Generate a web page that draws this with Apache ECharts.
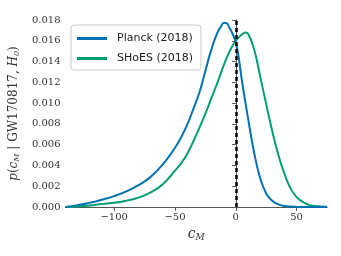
<!DOCTYPE html>
<html><head><meta charset="utf-8">
<script src="https://cdn.jsdelivr.net/npm/echarts@6/dist/echarts.min.js"></script>
<style>html,body{margin:0;padding:0;background:#fff}#c{width:341px;height:256px}</style>
</head><body><div id="c"></div>
<script>
var cmPlanck = [-140,-130,-120,-110,-100,-90,-80,-70,-60,-50,-45,-40,-35,-30,-25,-20,-15,-12,-10,-8,-5,-2,0,2,5,10,15,20,25,30,35,40,45,50,55,60,65,70,75];
var pPlanck  = [0,0.00018,0.0004,0.0007,0.00105,0.0015,0.0021,0.0029,0.0041,0.0057,0.0067,0.0079,0.0094,0.0110,0.0131,0.0152,0.0168,0.0174,0.0177,0.0177,0.0172,0.0165,0.0158,0.0147,0.0122,0.0086,0.0053,0.0028,0.0013,0.0006,0.00025,0.0001,0.00004,0.00001,0,0,0,0,0];
var cmShoes = [-140,-130,-120,-110,-100,-90,-80,-70,-60,-50,-45,-40,-35,-30,-25,-20,-15,-10,-5,0,5,8,10,15,20,25,30,35,40,45,50,55,60,65,70,75];
var pShoes  = [0,0.00005,0.00015,0.0003,0.0004,0.0006,0.0009,0.0014,0.0022,0.0035,0.0042,0.0051,0.0063,0.0076,0.0090,0.0105,0.0120,0.0136,0.0150,0.0160,0.0166,0.0168,0.0167,0.0152,0.0126,0.0099,0.0073,0.0050,0.0032,0.0018,0.00095,0.0005,0.0002,0.0001,0.00004,0.00002];
var xTicks = [-100,-50,0,50];
var yTicks = [0,0.002,0.004,0.006,0.008,0.010,0.012,0.014,0.016,0.018];
var names = ['Planck (2018)','SHoES (2018)'];

function pairs(x,y){return x.map(function(v,i){return [v,y[i]];});}
var serif = 'DejaVu Serif';
var axisCol = '#555';
var chart = echarts.init(document.getElementById('c'), null, {renderer:'canvas'});
chart.setOption({
  animation:false,
  grid:{left:65,right:14,top:20,bottom:49},
  legend:{
    data:names, orient:'vertical', left:71, top:25,
    icon:'rect', itemWidth:30, itemHeight:3, itemGap:9,
    padding:[8,8,6,6],
    borderColor:'#ccc', borderWidth:1, borderRadius:3,
    textStyle:{fontFamily:'DejaVu Sans', fontSize:11, color:'#222', padding:[0,0,0,5]}
  },
  xAxis:[{
    type:'value', min:-140, max:75,
    axisLine:{lineStyle:{color:axisCol,width:1}},
    axisTick:{inside:false,length:3.5,lineStyle:{color:axisCol},customValues:xTicks},
    splitLine:{show:false},
    axisLabel:{fontFamily:serif,fontSize:10,color:'#333',margin:5,customValues:xTicks,
      formatter:function(v){return String(v).replace('-','\u2212');}},
    name:'{i|c}{s|M}', nameLocation:'middle', nameGap:15,
    nameTextStyle:{rich:{i:{fontFamily:serif,fontStyle:'italic',fontSize:14,color:'#333'},
                         s:{fontFamily:serif,fontStyle:'italic',fontSize:9,color:'#333',padding:[7,0,0,0]}}}
  },{
    type:'value', position:'top', min:-140, max:75,
    axisLine:{lineStyle:{color:axisCol,width:1}},
    axisTick:{inside:true,length:3.5,lineStyle:{color:axisCol},customValues:xTicks},
    axisLabel:{show:false,customValues:xTicks}, splitLine:{show:false}
  }],
  yAxis:[{
    type:'value', min:0, max:0.018, interval:0.002,
    axisLine:{show:true,lineStyle:{color:axisCol,width:1}},
    axisTick:{show:true,inside:false,length:3.5,lineStyle:{color:axisCol}},
    splitLine:{show:false},
    axisLabel:{fontFamily:serif,fontSize:10,color:'#333',margin:5,
      formatter:function(v){return v.toFixed(3);}},
    name:'{i|p}({i|c}{s|M} | GW170817, {i|H}{s|0})', nameLocation:'middle', nameGap:40, nameRotate:90,
    nameTextStyle:{fontFamily:serif,fontSize:12,color:'#333',
      rich:{i:{fontFamily:serif,fontStyle:'italic',fontSize:12,color:'#333'},
            s:{fontFamily:serif,fontStyle:'italic',fontSize:8,color:'#333',padding:[6,0,0,0]}}}
  },{
    type:'value', position:'right', min:0, max:0.018, interval:0.002,
    axisLine:{show:true,lineStyle:{color:axisCol,width:1}},
    axisTick:{show:true,inside:true,length:3.5,lineStyle:{color:axisCol}},
    axisLabel:{show:false}, splitLine:{show:false}
  }],
  series:[{
    name:names[0], type:'line', data:pairs(cmPlanck,pPlanck), smooth:0.5, showSymbol:false, clip:true,
    lineStyle:{color:'#0072B2',width:2}, itemStyle:{color:'#0072B2'},
    markLine:{silent:true,symbol:['none','none'],label:{show:false},
      lineStyle:{color:'#000',width:2.5,type:[4,3]}, data:[{xAxis:0}]}, z:3
  },{
    name:names[1], type:'line', data:pairs(cmShoes,pShoes), smooth:0.5, showSymbol:false, clip:true,
    lineStyle:{color:'#009E73',width:2}, itemStyle:{color:'#009E73'}, z:2
  }]
});
</script></body></html>
